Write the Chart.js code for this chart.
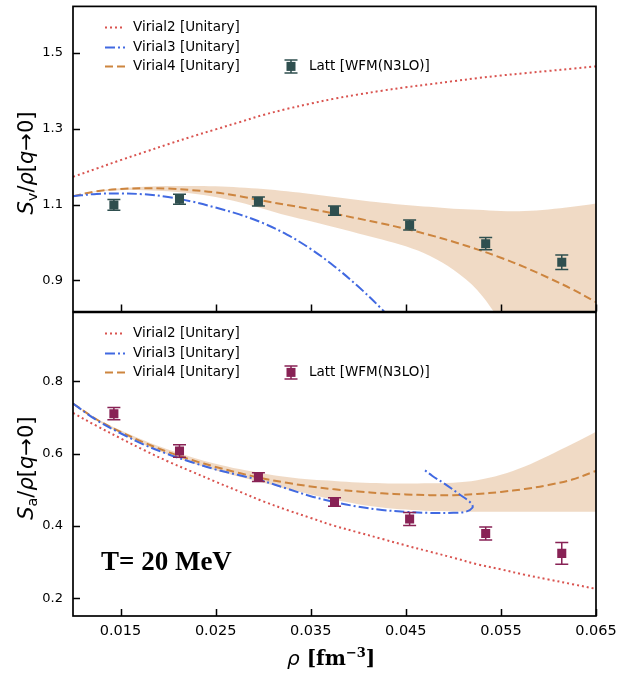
<!DOCTYPE html>
<html>
<head>
<meta charset="utf-8">
<script src="https://cdn.jsdelivr.net/npm/chart.js@4.4.1/dist/chart.umd.min.js"></script>
<style>
  body { margin: 0; background: #fff; }
  #wrap { position: relative; width: 619px; height: 675px; }
  canvas { position: absolute; left: 0; }
  #topChart { top: 0; }
  #bottomChart { top: 306px; }
</style>
</head>
<body>
<div id="wrap">
  <canvas id="topChart" width="619" height="318"></canvas>
  <canvas id="bottomChart" width="619" height="369"></canvas>
</div>
<script>
// lattice results (density in fm^-3)
const rhoLatt = [0.0143, 0.0212, 0.0295, 0.0375, 0.0454, 0.0534, 0.0614];
const svLatt = [1.099, 1.114, 1.108, 1.084, 1.046, 0.997, 0.948];
const svErr = [0.014, 0.013, 0.012, 0.012, 0.013, 0.016, 0.019];
const saLatt = [0.710, 0.607, 0.535, 0.466, 0.419, 0.379, 0.324];
const saErr = [0.017, 0.017, 0.012, 0.012, 0.018, 0.018, 0.030];

// density grid for the virial curves
const rhoGrid = [0.0100, 0.0125, 0.0150, 0.0175, 0.0200, 0.0225, 0.0250, 0.0275, 0.0300, 0.0325, 0.0350, 0.0375,
                 0.0400, 0.0425, 0.0450, 0.0475, 0.0500, 0.0525, 0.0550, 0.0575, 0.0600, 0.0625, 0.0650];

// vector channel
const virial2Sv = [1.173, 1.195, 1.217, 1.238, 1.259, 1.279, 1.298, 1.317, 1.336, 1.352, 1.366, 1.379,
                   1.390, 1.400, 1.409, 1.417, 1.425, 1.433, 1.440, 1.446, 1.452, 1.458, 1.464];
const virial3Sv = [1.122, 1.128, 1.129, 1.127, 1.120, 1.108, 1.092, 1.074, 1.051, 1.021, 0.983, 0.937,
                   0.884, 0.824, 0.758];
const virial4Sv = [1.122, 1.135, 1.141, 1.143, 1.142, 1.138, 1.132, 1.122, 1.110, 1.099, 1.088, 1.076,
                   1.063, 1.050, 1.036, 1.020, 1.002, 0.982, 0.960, 0.935, 0.907, 0.877, 0.843];
const virial4SvHi = [1.122, 1.136, 1.143, 1.147, 1.149, 1.149, 1.148, 1.145, 1.141, 1.135, 1.128, 1.120,
                     1.112, 1.105, 1.099, 1.094, 1.089, 1.086, 1.083, 1.083, 1.087, 1.094, 1.103];
const virial4SvLo = [1.122, 1.134, 1.138, 1.138, 1.135, 1.129, 1.120, 1.106, 1.089, 1.071, 1.056, 1.040,
                     1.024, 1.008, 0.990, 0.965, 0.928, 0.875, 0.790, 0.690, 0.580, 0.460, 0.340];

// axial channel
const virial2Sa = [0.712, 0.676, 0.642, 0.609, 0.578, 0.550, 0.522, 0.495, 0.468, 0.444, 0.422, 0.400,
                   0.382, 0.364, 0.346, 0.329, 0.312, 0.294, 0.280, 0.265, 0.252, 0.239, 0.226];
// Virial3 turns back on itself, so it keeps its own density list
const rhoV3Sa = [0.0100, 0.0125, 0.0150, 0.0175, 0.0200, 0.0225, 0.0250, 0.0275, 0.0300, 0.0325, 0.0350, 0.0375,
                 0.0400, 0.0425, 0.0450, 0.0475, 0.0500, 0.0513, 0.0520, 0.0519, 0.0506, 0.0490, 0.0478, 0.0468];
const virial3Sa = [0.738, 0.692, 0.656, 0.624, 0.598, 0.576, 0.556, 0.540, 0.524, 0.503, 0.482, 0.466,
                   0.453, 0.444, 0.439, 0.436, 0.436, 0.439, 0.450, 0.462, 0.488, 0.518, 0.538, 0.558];
const virial4Sa = [0.738, 0.694, 0.660, 0.630, 0.604, 0.582, 0.563, 0.546, 0.531, 0.519, 0.509, 0.501,
                   0.495, 0.490, 0.487, 0.485, 0.485, 0.488, 0.494, 0.502, 0.513, 0.528, 0.552];
const virial4SaHi = [0.738, 0.697, 0.664, 0.636, 0.611, 0.590, 0.572, 0.557, 0.545, 0.535, 0.528, 0.524,
                     0.520, 0.518, 0.517, 0.518, 0.519, 0.526, 0.541, 0.564, 0.594, 0.626, 0.660];
const virial4SaLo = [0.738, 0.691, 0.656, 0.624, 0.597, 0.574, 0.554, 0.536, 0.519, 0.502, 0.487, 0.472,
                     0.460, 0.451, 0.445, 0.441, 0.440, 0.439, 0.439, 0.439, 0.439, 0.439, 0.439];

const xTicks = [0.015, 0.025, 0.035, 0.045, 0.055, 0.065];
const svTicks = [0.9, 1.1, 1.3, 1.5];
const saTicks = [0.2, 0.4, 0.6, 0.8];
const legendLabels = ['Virial2 [Unitary]', 'Virial3 [Unitary]', 'Virial4 [Unitary]', 'Latt [WFM(N3LO)]'];

const RED = '#d9534f', BLUE = '#4169e1', ORANGE = '#cd853f';
const BAND = 'rgba(205, 133, 63, 0.3)';
const SANS = '"DejaVu Sans", sans-serif';
const SERIF = '"Liberation Serif", "Times New Roman", serif';
const DSERIF = '"DejaVu Serif", serif';

function pts(xs, ys) {
    return ys.map((y, i) => ({ x: xs[i], y: y }));
}

// draws a run of text pieces with their own fonts and vertical shifts
function drawPieces(ctx, pieces, x0, y0, align) {
    let total = 0;
    pieces.forEach(p => { ctx.font = p.font; total += ctx.measureText(p.t).width; });
    let x = align === 'center' ? x0 - total / 2 : x0;
    pieces.forEach(p => {
        ctx.font = p.font;
        ctx.fillText(p.t, x, y0 + (p.dy || 0));
        x += ctx.measureText(p.t).width;
    });
}

// error bars, frame, inward ticks, legend and axis titles
const panelDecor = {
    id: 'panelDecor',
    beforeDatasetDraw(chart, args) {
        if (args.index !== 0) return;
        const o = chart.options.plugins.panelDecor;
        const { ctx, scales: { x, y } } = chart;
        ctx.save();
        ctx.strokeStyle = o.color;
        ctx.lineWidth = 1.5;
        o.values.forEach((v, i) => {
            const px = x.getPixelForValue(rhoLatt[i]);
            const y0 = y.getPixelForValue(v - o.err[i]);
            const y1 = y.getPixelForValue(v + o.err[i]);
            ctx.beginPath();
            ctx.moveTo(px, y0); ctx.lineTo(px, y1);
            ctx.moveTo(px - 6.5, y0); ctx.lineTo(px + 6.5, y0);
            ctx.moveTo(px - 6.5, y1); ctx.lineTo(px + 6.5, y1);
            ctx.stroke();
        });
        ctx.restore();
    },
    afterDraw(chart) {
        const o = chart.options.plugins.panelDecor;
        const { ctx, chartArea: a, scales: { x, y } } = chart;
        ctx.save();

        // inward ticks
        ctx.strokeStyle = '#000';
        ctx.lineWidth = 1.5;
        ctx.beginPath();
        o.yTicks.forEach(v => {
            const py = Math.round(y.getPixelForValue(v)) + 0.5;
            ctx.moveTo(a.left, py); ctx.lineTo(a.left + 7, py);
        });
        xTicks.forEach(v => {
            const px = Math.round(x.getPixelForValue(v)) + 0.5;
            ctx.moveTo(px, a.bottom); ctx.lineTo(px, a.bottom - 7);
        });
        ctx.stroke();

        // frame
        ctx.lineWidth = 1.7;
        ctx.strokeRect(a.left, a.top, a.right - a.left, a.bottom - a.top);

        // legend
        const rows = [a.top + 21, a.top + 41, a.top + 60];
        const styles = [
            { c: RED, d: [2, 3] },
            { c: BLUE, d: [10, 3, 2, 3] },
            { c: ORANGE, d: [8, 4] }
        ];
        ctx.font = '13.5px ' + SANS;
        ctx.textBaseline = 'middle';
        styles.forEach((s, i) => {
            ctx.strokeStyle = s.c;
            ctx.lineWidth = 2;
            ctx.setLineDash(s.d);
            ctx.beginPath();
            ctx.moveTo(105, rows[i]); ctx.lineTo(125, rows[i]);
            ctx.stroke();
            ctx.setLineDash([]);
            ctx.fillStyle = '#000';
            ctx.fillText(legendLabels[i], 133, rows[i]);
        });
        const mx = 291, my = rows[2];
        ctx.strokeStyle = o.color;
        ctx.fillStyle = o.color;
        ctx.lineWidth = 1.5;
        ctx.beginPath();
        ctx.moveTo(mx, my - 6.5); ctx.lineTo(mx, my + 6.5);
        ctx.moveTo(mx - 6.5, my - 6.5); ctx.lineTo(mx + 6.5, my - 6.5);
        ctx.moveTo(mx - 6.5, my + 6.5); ctx.lineTo(mx + 6.5, my + 6.5);
        ctx.stroke();
        ctx.fillRect(mx - 4.5, my - 4.5, 9, 9);
        ctx.fillStyle = '#000';
        ctx.fillText(legendLabels[3], 309, my);

        // rotated y title
        ctx.textBaseline = 'alphabetic';
        ctx.save();
        ctx.translate(33, (a.top + a.bottom) / 2 + 4);
        ctx.rotate(-Math.PI / 2);
        const big = '21px ' + SANS, ital = 'italic 21px ' + SANS;
        drawPieces(ctx, [
            { t: 'S', font: ital },
            { t: o.sub, font: '14.5px ' + SANS, dy: 4 },
            { t: '/', font: big },
            { t: 'ρ', font: ital },
            { t: '[', font: big },
            { t: 'q', font: ital },
            { t: '→', font: big },
            { t: '0', font: big },
            { t: ']', font: big }
        ], 0, 0, 'center');
        ctx.restore();

        if (o.bottom) {
            // x title
            drawPieces(ctx, [
                { t: 'ρ', font: 'italic 20px ' + SANS },
                { t: ' [fm', font: 'bold 20px ' + DSERIF },
                { t: '−3', font: 'bold 13px ' + DSERIF, dy: -8 },
                { t: ']', font: 'bold 20px ' + DSERIF }
            ], 287, a.bottom + 49, 'left');

            // temperature tag
            ctx.font = 'bold 27px ' + SERIF;
            ctx.fillText('T= 20 MeV', 101, a.top + 258);
        }
        ctx.restore();
    }
};

function lineSet(data, color, dash) {
    return {
        data: data, showLine: true, borderColor: color, borderWidth: 2, borderDash: dash,
        pointRadius: 0, tension: 0.35, fill: false
    };
}

function makeChart(id, cfg) {
    const datasets = [
        {
            data: pts(rhoLatt, cfg.latt), pointStyle: 'rect', pointRadius: 6.4,
            backgroundColor: cfg.color, borderWidth: 0, showLine: false
        },
        lineSet(cfg.v2, RED, [2, 3]),
        lineSet(cfg.v3, BLUE, [10, 3, 2, 3]),
        lineSet(cfg.v4, ORANGE, [8, 4]),
        { data: cfg.hi, showLine: true, borderWidth: 0, pointRadius: 0, tension: 0.35, fill: false },
        { data: cfg.lo, showLine: true, borderWidth: 0, pointRadius: 0, tension: 0.35, fill: '-1', backgroundColor: BAND }
    ];

    return new Chart(document.getElementById(id), {
        type: 'scatter',
        data: { datasets: datasets },
        options: {
            responsive: false,
            maintainAspectRatio: false,
            animation: false,
            events: [],
            layout: { padding: { top: 6, right: 23, bottom: cfg.bottom ? 0 : 6, left: 0 } },
            scales: {
                x: {
                    type: 'linear', min: 0.010, max: 0.065,
                    display: cfg.bottom,
                    grid: { display: false, drawTicks: false },
                    border: { display: false },
                    afterBuildTicks: s => { s.ticks = xTicks.map(v => ({ value: v })); },
                    afterFit: s => {
                        if (cfg.bottom) s.height = 59;
                        s.paddingLeft = 0;
                        s.paddingRight = 0;
                    },
                    ticks: {
                        color: '#000', padding: 7, maxRotation: 0,
                        font: { family: 'DejaVu Sans', size: 14.5 },
                        callback: v => v.toFixed(3)
                    }
                },
                y: {
                    min: cfg.yMin, max: cfg.yMax,
                    grid: { display: false, drawTicks: false },
                    border: { display: false },
                    afterBuildTicks: s => { s.ticks = cfg.yTicks.map(v => ({ value: v })); },
                    afterFit: s => {
                        s.width = 73;
                        s.paddingTop = 0;
                        s.paddingBottom = 0;
                    },
                    ticks: {
                        color: '#000', padding: 10,
                        font: { family: 'DejaVu Sans', size: 13 },
                        callback: v => v.toFixed(1)
                    }
                }
            },
            plugins: {
                legend: { display: false },
                tooltip: { enabled: false },
                panelDecor: {
                    color: cfg.color, values: cfg.latt, err: cfg.err,
                    yTicks: cfg.yTicks, sub: cfg.sub, bottom: cfg.bottom
                }
            }
        },
        plugins: [panelDecor]
    });
}

makeChart('topChart', {
    latt: svLatt, err: svErr, color: '#2f4f4f', sub: 'v',
    v2: pts(rhoGrid, virial2Sv), v3: pts(rhoGrid, virial3Sv), v4: pts(rhoGrid, virial4Sv),
    hi: pts(rhoGrid, virial4SvHi), lo: pts(rhoGrid, virial4SvLo),
    yMin: 0.818, yMax: 1.622, yTicks: svTicks, bottom: false
});

makeChart('bottomChart', {
    latt: saLatt, err: saErr, color: '#882255', sub: 'a',
    v2: pts(rhoGrid, virial2Sa), v3: pts(rhoV3Sa, virial3Sa), v4: pts(rhoGrid, virial4Sa),
    hi: pts(rhoGrid, virial4SaHi), lo: pts(rhoGrid, virial4SaLo),
    yMin: 0.151, yMax: 0.99, yTicks: saTicks, bottom: true
});
</script>
</body>
</html>
